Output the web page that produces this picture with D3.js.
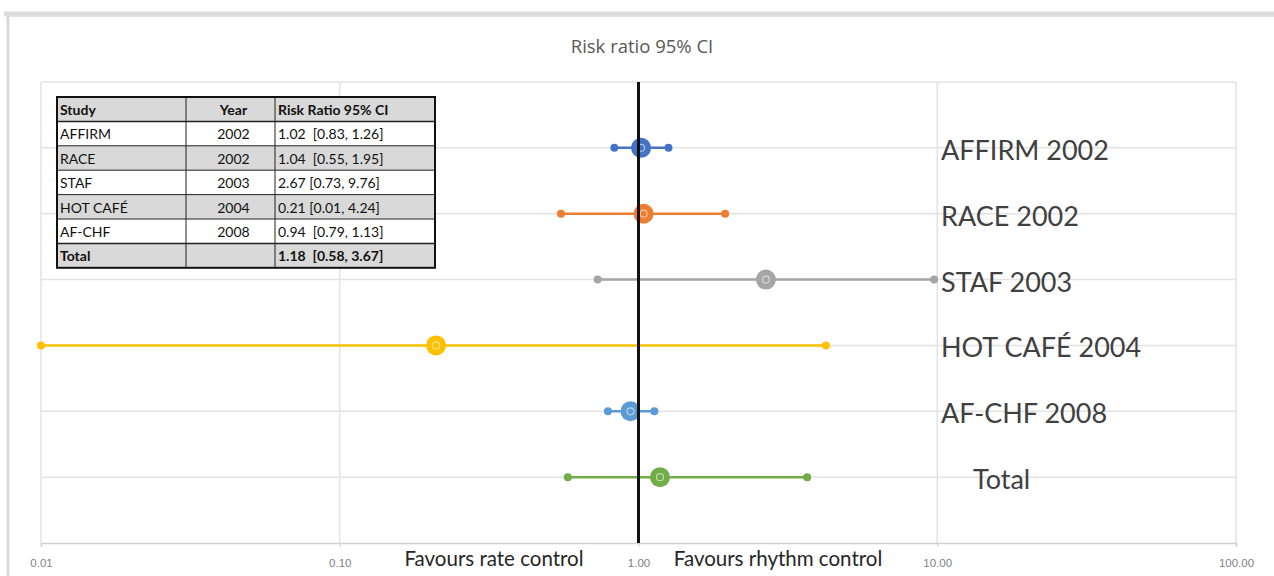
<!DOCTYPE html>
<html>
<head>
<meta charset="utf-8">
<script src="https://cdn.jsdelivr.net/npm/d3@7"></script>
<style>
  body { margin: 0; background: #fff; }
  svg { font-family: Lato, "Open Sans", sans-serif; }
  .table text { white-space: pre; }
</style>
</head>
<body>
<svg width="1274" height="576"></svg>
<script>
var studies = ["AFFIRM", "RACE", "STAF", "HOT CAFÉ", "AF-CHF", "Total"];
var years = ["2002", "2002", "2003", "2004", "2008", ""];
var rowLabels = ["AFFIRM 2002", "RACE 2002", "STAF 2003", "HOT CAFÉ 2004", "AF-CHF 2008", "Total"];
var ratio = [1.02, 1.04, 2.67, 0.21, 0.94, 1.18];
var lower = [0.83, 0.55, 0.73, 0.01, 0.79, 0.58];
var upper = [1.26, 1.95, 9.76, 4.24, 1.13, 3.67];
var ciText = ["1.02  [0.83, 1.26]", "1.04  [0.55, 1.95]", "2.67 [0.73, 9.76]", "0.21 [0.01, 4.24]", "0.94  [0.79, 1.13]", "1.18  [0.58, 3.67]"];
var colors = ["#4472C4", "#ED7D31", "#A5A5A5", "#FFC000", "#5B9BD5", "#70AD47"];
var xTicks = [0.01, 0.1, 1, 10, 100];
var yPos = [6, 5, 4, 3, 2, 1];

svg = d3.select("svg");

// outer frame
svg.append("rect")
  .attr("x", 8).attr("y", 15)
  .attr("width", 1280).attr("height", 600)
  .attr("fill", "none")
  .attr("stroke", "#d9d9d9")
  .attr("stroke-width", 3);
svg.append("line")
  .attr("x1", 4).attr("x2", 1274).attr("y1", 14).attr("y2", 14)
  .attr("stroke", "#dcdcdc").attr("stroke-width", 5);

x = d3.scaleLog().domain([0.01, 100]).range([41, 1236]);
y = d3.scaleLinear().domain([0, 7]).range([543, 82]);

svg.append("text")
  .attr("x", 642).attr("y", 53)
  .attr("text-anchor", "middle")
  .attr("font-family", "'Liberation Sans Narrow', 'Open Sans', sans-serif")
  .attr("font-size", 18.5)
  .attr("fill", "#595959")
  .text("Risk ratio 95% CI");

grid = svg.append("g").attr("class", "grid");
d3.range(1, 8).forEach(function(v) {
  grid.append("line")
    .attr("x1", x(0.01)).attr("x2", x(100))
    .attr("y1", y(v)).attr("y2", y(v))
    .attr("stroke", "#e3e3e3").attr("stroke-width", 1.5);
});
xTicks.forEach(function(t) {
  grid.append("line")
    .attr("x1", x(t)).attr("x2", x(t))
    .attr("y1", y(7)).attr("y2", y(0))
    .attr("stroke", "#e3e3e3").attr("stroke-width", 1.5);
});

// x axis
axisX = svg.append("g")
  .attr("transform", "translate(0," + y(0) + ")")
  .call(d3.axisBottom(x).tickValues(xTicks).tickSize(4).tickFormat(d3.format(".2f")));
axisX.select(".domain").attr("stroke", "#d0d0d0").attr("stroke-width", 1.5);
axisX.selectAll(".tick line").attr("stroke", "#d0d0d0");
axisX.selectAll(".tick text")
  .attr("dy", 17)
  .attr("font-size", 11.5)
  .attr("font-family", "'Liberation Sans Narrow', sans-serif")
  .attr("fill", "#7f7f7f");

svg.append("text").attr("x", 494).attr("y", 566)
  .attr("text-anchor", "middle").attr("font-size", 20.5).attr("fill", "#262626")
  .text("Favours rate control");
svg.append("text").attr("x", 778).attr("y", 566)
  .attr("text-anchor", "middle").attr("font-size", 20.5).attr("fill", "#262626")
  .text("Favours rhythm control");

// series
series = svg.append("g").attr("class", "series");
studies.forEach(function(s, i) {
  var g = series.append("g");
  var cy = y(yPos[i]);
  g.append("line")
    .attr("x1", x(lower[i])).attr("x2", x(upper[i]))
    .attr("y1", cy).attr("y2", cy)
    .attr("stroke", colors[i]).attr("stroke-width", 2.5);
  [lower[i], upper[i]].forEach(function(v) {
    g.append("circle").attr("cx", x(v)).attr("cy", cy).attr("r", 4)
      .attr("fill", colors[i]);
  });
  g.append("circle").attr("cx", x(ratio[i])).attr("cy", cy).attr("r", 10)
    .attr("fill", colors[i]);
  g.append("circle").attr("cx", x(ratio[i])).attr("cy", cy).attr("r", 3.5)
    .attr("fill", "none").attr("stroke", "#fff").attr("stroke-opacity", 0.55).attr("stroke-width", 1.2);
});

// reference line at 1
svg.append("line")
  .attr("x1", x(1)).attr("x2", x(1))
  .attr("y1", y(7)).attr("y2", y(0))
  .attr("stroke", "#111").attr("stroke-width", 3);

// row labels
rowLabels.forEach(function(l, i) {
  svg.append("text")
    .attr("x", i == 5 ? 973 : 941)
    .attr("y", y(yPos[i]) + 12)
    .attr("font-size", 27)
    .attr("fill", "#404040")
    .text(l);
});

// table
var colX = [57, 186, 275, 435];
var rowH = 24.4;
var tableTop = 97;
table = svg.append("g").attr("class", "table");
var rows = [["Study", "Year", "Risk Ratio 95% CI"]];
studies.forEach(function(s, i) { rows.push([s, years[i], ciText[i]]); });
rows.forEach(function(r, ri) {
  var ty = tableTop + ri * rowH;
  table.append("rect")
    .attr("x", colX[0]).attr("y", ty)
    .attr("width", colX[3] - colX[0]).attr("height", rowH)
    .attr("fill", ri % 2 == 0 ? "#d9d9d9" : "#fff");
  var bold = ri == 0 || ri == rows.length - 1;
  table.append("text").attr("x", colX[0] + 3).attr("y", ty + 18)
    .attr("font-size", 14).attr("font-weight", bold ? "bold" : "normal").attr("fill", "#111").text(r[0]);
  table.append("text").attr("x", (colX[1] + colX[2]) / 2 + 3).attr("y", ty + 18)
    .attr("text-anchor", "middle")
    .attr("font-size", 14).attr("font-weight", bold ? "bold" : "normal").attr("fill", "#111").text(r[1]);
  table.append("text").attr("x", colX[2] + 3).attr("y", ty + 18)
    .attr("font-size", 14).attr("font-weight", bold ? "bold" : "normal").attr("fill", "#111").text(r[2]);
  if (ri > 0) {
    table.append("line").attr("x1", colX[0]).attr("x2", colX[3])
      .attr("y1", ty).attr("y2", ty)
      .attr("stroke", "#222").attr("stroke-width", ri == 1 || ri == rows.length - 1 ? 1.5 : 1);
  }
});
colX.slice(1, 3).forEach(function(cx) {
  table.append("line").attr("x1", cx).attr("x2", cx)
    .attr("y1", tableTop).attr("y2", tableTop + rows.length * rowH)
    .attr("stroke", "#222").attr("stroke-width", 1);
});
table.append("rect")
  .attr("x", colX[0]).attr("y", tableTop)
  .attr("width", colX[3] - colX[0]).attr("height", rows.length * rowH)
  .attr("fill", "none").attr("stroke", "#111").attr("stroke-width", 2);
</script>
</body>
</html>
